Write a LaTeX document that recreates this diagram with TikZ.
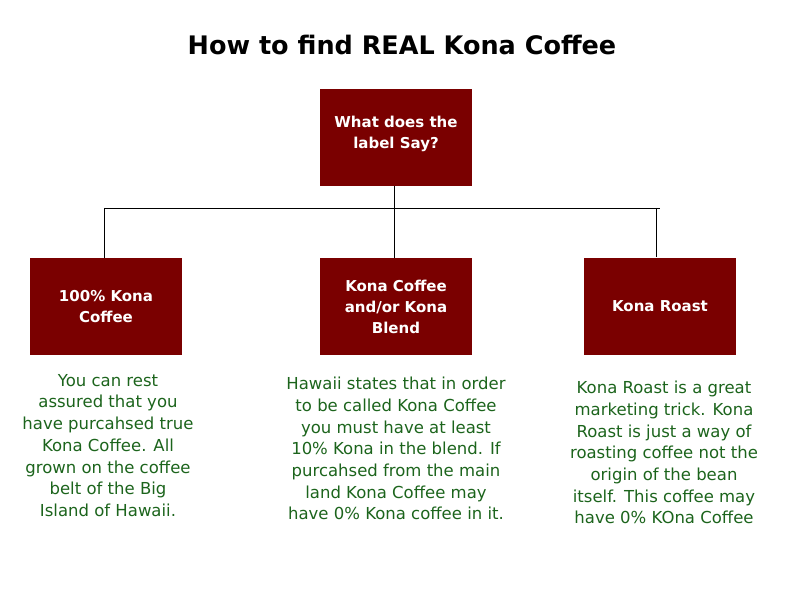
\documentclass[tikz,border=0pt]{standalone}
\usepackage{fontspec}
\setmainfont{DejaVu Sans}
\definecolor{boxred}{RGB}{122,0,0}
\definecolor{txtgreen}{RGB}{28,100,28}
\begin{document}
\begin{tikzpicture}[x=1pt,y=-1pt,
  box/.style={fill=boxred,draw=none,minimum width=152pt,minimum height=97pt,inner sep=0pt,
    text=white,align=center,font=\fontsize{15}{21}\selectfont\bfseries},
  desc/.style={text=txtgreen,align=center,font=\fontsize{16.5}{21.7}\selectfont,inner sep=0pt},
  conn/.style={draw=black,line width=0.8pt}]
\useasboundingbox (0,0) rectangle (792,612);
\node[font=\fontsize{25.5}{28}\selectfont\bfseries,text=black] (title) at (402,45) {How to find REAL Kona Coffee};
\node[box] (top) at (396,137.5) {};
\node[text=white,align=center,font=\fontsize{15}{21}\selectfont\bfseries,inner sep=0pt] (toplbl) at (top.center) [yshift=4pt] {What does the\\label Say?};
\node[box] (b1) at (106,306.5) {100\% Kona\\Coffee};
\node[box] (b2) at (396,306.5) {Kona Coffee\\and/or Kona\\Blend};
\node[box] (b3) at (660,306.5) {Kona Roast};
\coordinate (hl) at (104,208);
\coordinate (hr) at (660,208);
\coordinate (hm) at (394,208);
\coordinate (r3) at (656,257);
\draw[conn] (hl) -- (hr);
\draw[conn] (hl) -- (hl |- b1.north);
\draw[conn] (top.south -| hm) -- (hm |- b2.north);
\draw[conn] (656,208) -- (r3);
\node[desc,anchor=north] (d1) at (108,374) {You can rest\\assured that you\\have purcahsed true\\Kona Coffee. All\\grown on the coffee\\belt of the Big\\Island of Hawaii.};
\node[desc,anchor=north] (d2) at (396,377) {Hawaii states that in order\\to be called Kona Coffee\\you must have at least\\10\% Kona in the blend. If\\purcahsed from the main\\land Kona Coffee may\\have 0\% Kona coffee in it.};
\node[desc,anchor=north] (d3) at (664,381) {Kona Roast is a great\\marketing trick. Kona\\Roast is just a way of\\roasting coffee not the\\origin of the bean\\itself. This coffee may\\have 0\% KOna Coffee};
\end{tikzpicture}
\end{document}
